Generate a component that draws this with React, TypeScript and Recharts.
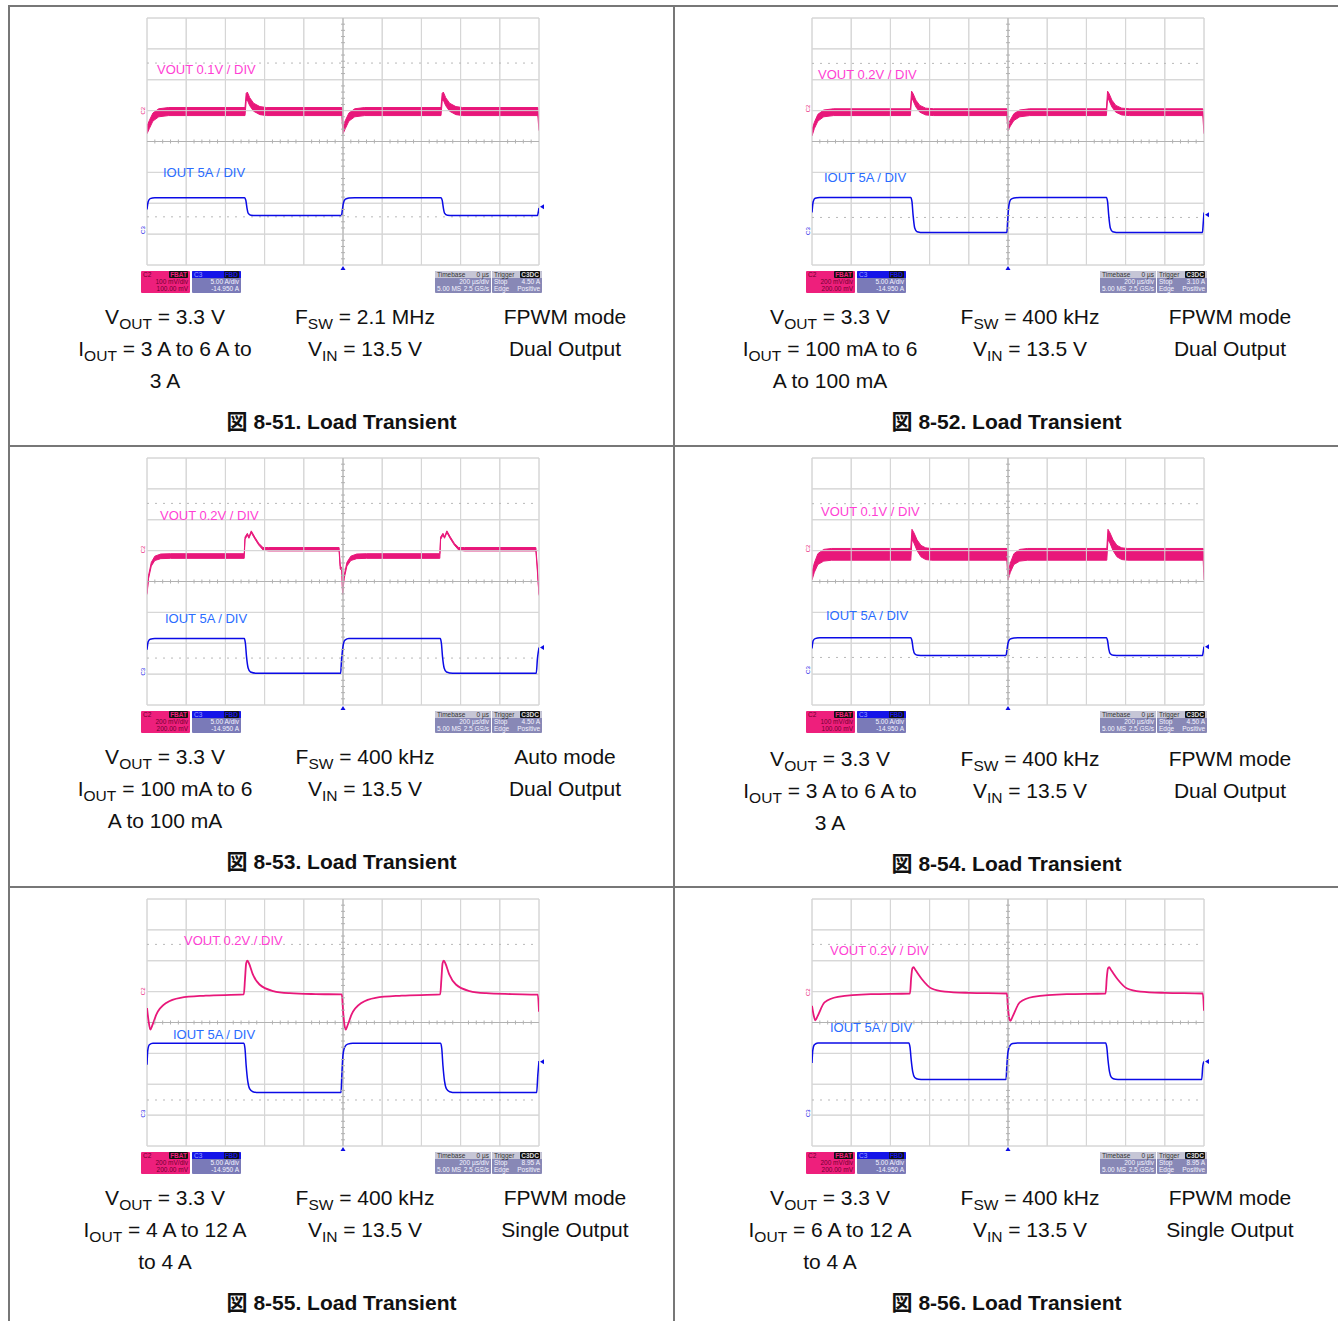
import React from 'react';
import {
  ComposedChart,
  Area,
  Line,
  Scatter,
  XAxis,
  YAxis,
  CartesianGrid,
  ReferenceLine,
  ReferenceDot,
} from 'recharts';

// scope colours
const TRACE_V = '#e8177a';
const TRACE_I = '#0b0be6';
const LABEL_V = '#ff3fd4';
const LABEL_I = '#2a6cff';
const GRID = '#d6d6d6';
const CENTER = '#b2b2b2';
const FONT = "'Liberation Sans', Arial, 'Noto Sans CJK JP', sans-serif";

// graticule: 10 x 8 divisions, minor ticks every 0.2 div on the centre lines
const DIV_X = [0, 1, 2, 3, 4, 5, 6, 7, 8, 9, 10];
const DIV_Y = [0, 1, 2, 3, 4, 5, 6, 7, 8];
const MINOR_X = [
  0.2, 0.4, 0.6, 0.8, 1.2, 1.4, 1.6, 1.8, 2.2, 2.4, 2.6, 2.8, 3.2, 3.4, 3.6, 3.8,
  4.2, 4.4, 4.6, 4.8, 5.2, 5.4, 5.6, 5.8, 6.2, 6.4, 6.6, 6.8, 7.2, 7.4, 7.6, 7.8,
  8.2, 8.4, 8.6, 8.8, 9.2, 9.4, 9.6, 9.8,
];
const MINOR_Y = [
  0.2, 0.4, 0.6, 0.8, 1.2, 1.4, 1.6, 1.8, 2.2, 2.4, 2.6, 2.8, 3.2, 3.4, 3.6, 3.8,
  4.2, 4.4, 4.6, 4.8, 5.2, 5.4, 5.6, 5.8, 6.2, 6.4, 6.6, 6.8, 7.2, 7.4, 7.6, 7.8,
];

// VOUT traces: [time div, low div, high div] (noise band) or [time div, value div]
const vout51 = [
  [0, 4.25, 4.5], [0.06, 4.42, 4.68], [0.15, 4.66, 4.92], [0.3, 4.8, 5.06], [0.55, 4.84, 5.1],
  [2.5, 4.84, 5.1], [2.53, 5.3, 5.56], [2.56, 5.34, 5.6], [2.62, 5.16, 5.42], [2.72, 4.98, 5.24],
  [2.88, 4.87, 5.13], [3.05, 4.84, 5.1], [4.97, 4.84, 5.1], [5.0, 4.25, 4.5], [5.06, 4.42, 4.68],
  [5.15, 4.66, 4.92], [5.3, 4.8, 5.06], [5.55, 4.84, 5.1], [7.5, 4.84, 5.1], [7.53, 5.3, 5.56],
  [7.56, 5.34, 5.6], [7.62, 5.16, 5.42], [7.72, 4.98, 5.24], [7.88, 4.87, 5.13], [8.05, 4.84, 5.1],
  [9.97, 4.84, 5.1], [10, 4.35, 4.55],
];
const iout51 = [
  [0, 1.8], [0.03, 2.05], [0.08, 2.15], [0.2, 2.18], [2.49, 2.18], [2.52, 2.1], [2.55, 1.85],
  [2.58, 1.68], [2.65, 1.61], [2.8, 1.6], [4.96, 1.6], [4.98, 1.75], [5.01, 2.0], [5.06, 2.13],
  [5.15, 2.17], [5.3, 2.18], [7.5, 2.18], [7.53, 2.1], [7.56, 1.85], [7.59, 1.68], [7.66, 1.61],
  [7.8, 1.6], [9.96, 1.6], [9.98, 1.7], [10, 1.85],
];

const vout52 = [
  [0, 4.18, 4.38], [0.06, 4.42, 4.62], [0.15, 4.66, 4.88], [0.3, 4.8, 5.02], [0.55, 4.84, 5.06],
  [2.51, 4.84, 5.06], [2.54, 5.4, 5.63], [2.58, 5.32, 5.55], [2.65, 5.12, 5.34], [2.75, 4.95, 5.17],
  [2.9, 4.86, 5.08], [3.1, 4.84, 5.06], [4.97, 4.84, 5.06], [5.0, 4.35, 4.55], [5.06, 4.5, 4.7],
  [5.15, 4.68, 4.9], [5.3, 4.8, 5.02], [5.55, 4.84, 5.06], [7.51, 4.84, 5.06], [7.54, 5.4, 5.63],
  [7.58, 5.32, 5.55], [7.65, 5.12, 5.34], [7.75, 4.95, 5.17], [7.9, 4.86, 5.08], [8.1, 4.84, 5.06],
  [9.97, 4.84, 5.06], [10, 4.25, 4.45],
];
const iout52 = [
  [0, 1.7], [0.03, 2.05], [0.08, 2.16], [0.2, 2.19], [2.52, 2.19], [2.55, 2.05], [2.58, 1.6],
  [2.62, 1.2], [2.68, 1.08], [2.85, 1.05], [4.97, 1.05], [4.99, 1.4], [5.02, 1.9], [5.07, 2.12],
  [5.15, 2.17], [5.3, 2.19], [7.51, 2.19], [7.54, 2.05], [7.57, 1.6], [7.61, 1.2], [7.67, 1.08],
  [7.85, 1.05], [9.96, 1.05], [9.98, 1.35], [10, 1.7],
];

const vout53 = [
  [0, 3.58, 3.62], [0.04, 4.1, 4.2], [0.11, 4.5, 4.62], [0.2, 4.68, 4.82], [0.35, 4.74, 4.89],
  [0.6, 4.75, 4.9], [2.48, 4.75, 4.9], [2.5, 5.36, 5.44], [2.56, 5.5, 5.56], [2.6, 5.4, 5.45],
  [2.66, 5.58, 5.64], [2.75, 5.38, 5.44], [2.85, 5.18, 5.24], [2.96, 5.02, 5.1], [3.1, 4.99, 5.1],
  [4.9, 4.99, 5.1], [4.93, 4.4, 4.5], [4.97, 4.35, 4.45], [4.99, 3.58, 3.62], [5.03, 4.1, 4.2],
  [5.1, 4.5, 4.62], [5.2, 4.68, 4.82], [5.35, 4.74, 4.89], [5.6, 4.75, 4.9], [7.47, 4.75, 4.9],
  [7.49, 5.36, 5.44], [7.55, 5.5, 5.56], [7.59, 5.4, 5.45], [7.65, 5.58, 5.64], [7.74, 5.38, 5.44],
  [7.84, 5.18, 5.24], [7.95, 5.02, 5.1], [8.1, 4.99, 5.1], [9.92, 4.99, 5.1], [9.95, 4.5, 4.6],
  [10, 3.55, 3.6],
];
const iout53 = [
  [0, 1.79], [0.03, 2.05], [0.08, 2.13], [0.2, 2.15], [2.48, 2.15], [2.51, 2.0], [2.54, 1.55],
  [2.58, 1.2], [2.64, 1.07], [2.8, 1.03], [4.94, 1.03], [4.96, 1.4], [5.0, 1.9], [5.05, 2.1],
  [5.15, 2.15], [7.48, 2.15], [7.51, 2.0], [7.54, 1.55], [7.58, 1.2], [7.64, 1.07], [7.8, 1.03],
  [9.93, 1.03], [9.96, 1.5], [10, 1.86],
];

const vout54 = [
  [0, 4.05, 4.3], [0.06, 4.3, 4.6], [0.15, 4.55, 4.9], [0.3, 4.66, 5.04], [0.5, 4.69, 5.07],
  [2.52, 4.69, 5.07], [2.55, 5.35, 5.69], [2.6, 5.25, 5.58], [2.68, 5.0, 5.35], [2.78, 4.8, 5.17],
  [2.9, 4.71, 5.09], [3.05, 4.69, 5.07], [4.97, 4.69, 5.07], [5.0, 4.05, 4.3], [5.06, 4.3, 4.6],
  [5.15, 4.55, 4.9], [5.3, 4.66, 5.04], [5.5, 4.69, 5.07], [7.52, 4.69, 5.07], [7.55, 5.35, 5.69],
  [7.6, 5.25, 5.58], [7.68, 5.0, 5.35], [7.78, 4.8, 5.17], [7.9, 4.71, 5.09], [8.05, 4.69, 5.07],
  [9.98, 4.69, 5.07], [10, 4.05, 4.3],
];
const iout54 = [
  [0, 1.83], [0.03, 2.08], [0.08, 2.15], [0.2, 2.18], [2.52, 2.18], [2.55, 2.08], [2.58, 1.82],
  [2.62, 1.66], [2.7, 1.61], [2.85, 1.6], [4.95, 1.6], [4.97, 1.75], [5.0, 2.0], [5.05, 2.13],
  [5.15, 2.17], [5.3, 2.18], [7.51, 2.18], [7.54, 2.08], [7.57, 1.82], [7.61, 1.66], [7.69, 1.61],
  [7.85, 1.6], [9.96, 1.6], [9.98, 1.72], [10, 1.89],
];

const vout55 = [
  [0, 4.47], [0.04, 4.05], [0.085, 3.77], [0.14, 3.92], [0.24, 4.26], [0.5, 4.64], [0.85, 4.8],
  [1.5, 4.87], [2.47, 4.91], [2.5, 5.4], [2.53, 5.92], [2.56, 6.0], [2.6, 5.92], [2.7, 5.56],
  [2.87, 5.23], [3.22, 5.02], [3.64, 4.95], [4.3, 4.92], [4.97, 4.91], [5.0, 4.4], [5.04, 3.9],
  [5.07, 3.77], [5.12, 3.92], [5.22, 4.26], [5.48, 4.64], [5.83, 4.8], [6.5, 4.87], [7.48, 4.91],
  [7.51, 5.4], [7.54, 5.92], [7.57, 6.0], [7.61, 5.92], [7.71, 5.56], [7.88, 5.23], [8.23, 5.02],
  [8.65, 4.95], [9.3, 4.92], [9.97, 4.9], [10, 4.35],
];
const iout55 = [
  [0, 2.63], [0.02, 3.1], [0.06, 3.28], [0.15, 3.33], [2.47, 3.33], [2.5, 3.15], [2.53, 2.6],
  [2.57, 2.1], [2.62, 1.85], [2.7, 1.76], [2.85, 1.73], [4.95, 1.73], [4.97, 2.3], [5.0, 2.95],
  [5.05, 3.22], [5.12, 3.3], [5.25, 3.33], [7.49, 3.33], [7.52, 3.15], [7.55, 2.6], [7.59, 2.1],
  [7.64, 1.85], [7.72, 1.76], [7.87, 1.73], [9.94, 1.73], [9.97, 2.3], [10, 2.75],
];

const vout56 = [
  [0, 4.54], [0.04, 4.25], [0.085, 4.07], [0.14, 4.2], [0.32, 4.65], [0.66, 4.83], [1.5, 4.92],
  [2.5, 4.94], [2.53, 5.45], [2.56, 5.75], [2.59, 5.79], [2.64, 5.7], [2.8, 5.41], [3.05, 5.1],
  [3.39, 5.0], [4.0, 4.96], [4.97, 4.94], [5.0, 4.45], [5.03, 4.15], [5.06, 4.05], [5.12, 4.2],
  [5.3, 4.65], [5.64, 4.83], [6.5, 4.92], [7.49, 4.94], [7.52, 5.45], [7.55, 5.75], [7.58, 5.79],
  [7.63, 5.7], [7.79, 5.41], [8.04, 5.1], [8.38, 5.0], [9.0, 4.96], [9.97, 4.94], [10, 4.38],
];
const iout56 = [
  [0, 2.69], [0.02, 3.1], [0.06, 3.28], [0.15, 3.34], [2.47, 3.34], [2.5, 3.2], [2.53, 2.8],
  [2.57, 2.4], [2.62, 2.22], [2.72, 2.16], [2.85, 2.15], [4.95, 2.15], [4.97, 2.6], [5.0, 3.05],
  [5.05, 3.25], [5.12, 3.32], [5.25, 3.34], [7.49, 3.34], [7.52, 3.2], [7.55, 2.8], [7.59, 2.4],
  [7.64, 2.22], [7.74, 2.16], [7.87, 2.15], [9.94, 2.15], [9.97, 2.6], [10, 2.74],
];

// marker levels in div: C2 ground, C3 ground, trigger level, upper dotted, lower dotted
const levels51 = [5.0, 1.13, 1.89, 6.54, 1.56];
const levels52 = [5.07, 1.1, 1.63, 6.53, 1.54];
const levels53 = [5.04, 1.08, 1.86, 6.53, 1.52];
const levels54 = [5.07, 1.13, 1.89, 6.52, 1.54];
const levels55 = [5.01, 1.05, 2.73, 6.53, 1.49];
const levels56 = [4.98, 1.06, 2.74, 6.53, 1.49];

// scope read-outs: C2 scale, C2 offset, trigger level
const status51 = ['100 mV/div', '100.00 mV', '4.50 A'];
const status52 = ['200 mV/div', '200.00 mV', '3.10 A'];
const status53 = ['200 mV/div', '200.00 mV', '4.50 A'];
const status54 = ['100 mV/div', '100.00 mV', '4.50 A'];
const status55 = ['200 mV/div', '200.00 mV', '8.95 A'];
const status56 = ['200 mV/div', '200.00 mV', '8.95 A'];

// test conditions, three columns ("_" marks a subscript)
const cond51 = [['V_OUT = 3.3 V', 'I_OUT = 3 A to 6 A to', '3 A'], ['F_SW = 2.1 MHz', 'V_IN = 13.5 V'], ['FPWM mode', 'Dual Output']];
const cond52 = [['V_OUT = 3.3 V', 'I_OUT = 100 mA to 6', 'A to 100 mA'], ['F_SW = 400 kHz', 'V_IN = 13.5 V'], ['FPWM mode', 'Dual Output']];
const cond53 = [['V_OUT = 3.3 V', 'I_OUT = 100 mA to 6', 'A to 100 mA'], ['F_SW = 400 kHz', 'V_IN = 13.5 V'], ['Auto mode', 'Dual Output']];
const cond54 = [['V_OUT = 3.3 V', 'I_OUT = 3 A to 6 A to', '3 A'], ['F_SW = 400 kHz', 'V_IN = 13.5 V'], ['FPWM mode', 'Dual Output']];
const cond55 = [['V_OUT = 3.3 V', 'I_OUT = 4 A to 12 A', 'to 4 A'], ['F_SW = 400 kHz', 'V_IN = 13.5 V'], ['FPWM mode', 'Single Output']];
const cond56 = [['V_OUT = 3.3 V', 'I_OUT = 6 A to 12 A', 'to 4 A'], ['F_SW = 400 kHz', 'V_IN = 13.5 V'], ['FPWM mode', 'Single Output']];

const CELL_LEFT = [9, 674];
const ROW_TOP = [6, 446, 887];

const PANELS = [
  { fig: '8-51', col: 0, row: 0, dy: 0, vout: vout51, band: true, iout: iout51, vText: 'VOUT 0.1V / DIV', vPos: [10, 45], iPos: [16, 148], levels: levels51, status: status51, cond: cond51 },
  { fig: '8-52', col: 1, row: 0, dy: 0, vout: vout52, band: true, iout: iout52, vText: 'VOUT 0.2V / DIV', vPos: [6, 50], iPos: [12, 153], levels: levels52, status: status52, cond: cond52 },
  { fig: '8-53', col: 0, row: 1, dy: 0, vout: vout53, band: true, iout: iout53, vText: 'VOUT 0.2V / DIV', vPos: [13, 51], iPos: [18, 154], levels: levels53, status: status53, cond: cond53 },
  { fig: '8-54', col: 1, row: 1, dy: 2, vout: vout54, band: true, iout: iout54, vText: 'VOUT 0.1V / DIV', vPos: [9, 47], iPos: [14, 151], levels: levels54, status: status54, cond: cond54 },
  { fig: '8-55', col: 0, row: 2, dy: 0, vout: vout55, band: false, iout: iout55, vText: 'VOUT 0.2V / DIV', vPos: [37, 35], iPos: [26, 129], levels: levels55, status: status55, cond: cond55 },
  { fig: '8-56', col: 1, row: 2, dy: 0, vout: vout56, band: false, iout: iout56, vText: 'VOUT 0.2V / DIV', vPos: [18, 45], iPos: [18, 122], levels: levels56, status: status56, cond: cond56 },
];

const W = 392;
const H = 247;

function Rich({ s }: { s: string }) {
  const parts = s.split(/_(\S+)/);
  return (
    <>
      {parts.map((x, i) =>
        i % 2 ? (
          <span key={i} style={{ fontSize: '0.74em', position: 'relative', top: '0.3em' }}>{x}</span>
        ) : (
          <React.Fragment key={i}>{x}</React.Fragment>
        )
      )}
    </>
  );
}

const hTick = (p: any) => (
  <line x1={p.cx} x2={p.cx} y1={p.cy - 2} y2={p.cy + 2} stroke={CENTER} strokeWidth={1} />
);
const vTick = (p: any) => (
  <line x1={p.cx - 2} x2={p.cx + 2} y1={p.cy} y2={p.cy} stroke={CENTER} strokeWidth={1} />
);

function Scope({ p }: { p: any }) {
  const [c2, c3, trig, dotHi, dotLo] = p.levels;
  const vData = p.band
    ? p.vout.map(([t, lo, hi]: number[]) => ({ t, band: [lo, hi] }))
    : p.vout.map(([t, v]: number[]) => ({ t, v }));
  const iData = p.iout.map(([t, v]: number[]) => ({ t, v }));
  const minorX = MINOR_X.map((t) => ({ t, y: 4 }));
  const minorY = MINOR_Y.map((y) => ({ t: 5, y }));

  return (
    <ComposedChart width={W + 16} height={H + 10} margin={{ top: 2, right: 8, bottom: 8, left: 8 }}>
      <XAxis type="number" dataKey="t" domain={[0, 10]} ticks={DIV_X} hide allowDataOverflow />
      <YAxis type="number" domain={[0, 8]} ticks={DIV_Y} hide allowDataOverflow />
      <CartesianGrid stroke={GRID} strokeWidth={1} />
      {DIV_X.map((x) => (
        <ReferenceLine key={`gx${x}`} x={x} stroke={GRID} />
      ))}
      {DIV_Y.map((y) => (
        <ReferenceLine key={`gy${y}`} y={y} stroke={GRID} />
      ))}
      <ReferenceLine y={dotHi} stroke="#b8b8b8" strokeDasharray="2 6" />
      <ReferenceLine y={dotLo} stroke="#b8b8b8" strokeDasharray="2 6" />
      <ReferenceLine x={5} stroke={CENTER} />
      <ReferenceLine y={4} stroke={CENTER} />
      <Scatter data={minorX} dataKey="y" shape={hTick} isAnimationActive={false} />
      <Scatter data={minorY} dataKey="y" shape={vTick} isAnimationActive={false} />
      <ReferenceDot
        x={0}
        y={c2}
        r={2}
        ifOverflow="visible"
        shape={(s: any) => (
          <text x={s.cx - 2} y={s.cy} transform={`rotate(-90 ${s.cx - 2} ${s.cy})`} fontSize={6} fill={TRACE_V} textAnchor="middle" fontFamily={FONT}>C2</text>
        )}
      />
      <ReferenceDot
        x={0}
        y={c3}
        r={2}
        ifOverflow="visible"
        shape={(s: any) => (
          <text x={s.cx - 2} y={s.cy} transform={`rotate(-90 ${s.cx - 2} ${s.cy})`} fontSize={6} fill={TRACE_I} textAnchor="middle" fontFamily={FONT}>C3</text>
        )}
      />
      <ReferenceDot
        x={10}
        y={trig}
        r={2}
        ifOverflow="visible"
        shape={(s: any) => (
          <polygon points={`${s.cx + 1},${s.cy} ${s.cx + 5},${s.cy - 2.5} ${s.cx + 5},${s.cy + 2.5}`} fill={TRACE_I} />
        )}
      />
      <ReferenceDot
        x={5}
        y={0}
        r={2}
        ifOverflow="visible"
        shape={(s: any) => (
          <polygon points={`${s.cx},${s.cy + 1} ${s.cx - 2.5},${s.cy + 5} ${s.cx + 2.5},${s.cy + 5}`} fill={TRACE_I} />
        )}
      />
      {p.band ? (
        <Area
          data={vData}
          dataKey="band"
          type="linear"
          stroke={TRACE_V}
          strokeWidth={1}
          fill={TRACE_V}
          fillOpacity={1}
          dot={false}
          activeDot={false}
          isAnimationActive={false}
        />
      ) : (
        <Line data={vData} dataKey="v" type="monotone" stroke={TRACE_V} strokeWidth={1.8} dot={false} activeDot={false} isAnimationActive={false} />
      )}
      <Line data={iData} dataKey="v" type="monotone" stroke={TRACE_I} strokeWidth={1.5} dot={false} activeDot={false} isAnimationActive={false} />
    </ComposedChart>
  );
}

function StatusBar({ s }: { s: string[] }) {
  const box = (left: number, width: number, bg: string): React.CSSProperties => ({
    position: 'absolute',
    left,
    top: 253,
    width,
    height: 22,
    background: bg,
    fontSize: 6.5,
    lineHeight: '7px',
    fontFamily: FONT,
    overflow: 'hidden',
    borderRadius: 1,
    boxSizing: 'border-box',
  });
  const row: React.CSSProperties = { display: 'flex', justifyContent: 'space-between', padding: '0 2px', height: 7 };
  const badge = (fg: string): React.CSSProperties => ({ background: '#111', color: fg, padding: '0 1px', fontWeight: 700, borderRadius: 1 });
  return (
    <>
      <div style={{ ...box(-6, 49, '#ee1f7c'), color: '#6e0030' }}>
        <div style={row}><span>C2</span><span style={badge('#ee1f7c')}>FBAT</span></div>
        <div style={{ textAlign: 'right', paddingRight: 2 }}>{s[0]}</div>
        <div style={{ textAlign: 'right', paddingRight: 2 }}>{s[1]}</div>
      </div>
      <div style={{ ...box(45, 49, '#7a7ab8'), color: '#f4f4ff' }}>
        <div style={{ ...row, background: '#1414e8', color: '#9aa0ff' }}><span>C3</span><span style={badge('#1414e8')}>FBD</span></div>
        <div style={{ textAlign: 'right', paddingRight: 2 }}>5.00 A/div</div>
        <div style={{ textAlign: 'right', paddingRight: 2 }}>-14.950 A</div>
      </div>
      <div style={{ ...box(288, 56, '#8888b6'), color: '#f4f4ff' }}>
        <div style={{ ...row, background: '#c6c6d6', color: '#333' }}><span>Timebase</span><span>0 µs</span></div>
        <div style={{ textAlign: 'right', paddingRight: 2 }}>200 µs/div</div>
        <div style={row}><span>5.00 MS</span><span>2.5 GS/s</span></div>
      </div>
      <div style={{ ...box(345, 50, '#8888b6'), color: '#f4f4ff' }}>
        <div style={{ ...row, background: '#c6c6d6', color: '#333' }}><span>Trigger</span><span style={badge('#ddd')}>C3DC</span></div>
        <div style={row}><span>Stop</span><span>{s[2]}</span></div>
        <div style={row}><span>Edge</span><span>Positive</span></div>
      </div>
    </>
  );
}

function Panel({ p }: { p: any }) {
  const cellLeft = CELL_LEFT[p.col];
  const rowTop = ROW_TOP[p.row];
  const gx = cellLeft + 138;
  const gy = rowTop + 12;
  const label = (color: string, pos: number[]): React.CSSProperties => ({
    position: 'absolute',
    left: pos[0],
    top: pos[1],
    color,
    fontSize: 13,
    lineHeight: '13px',
    whiteSpace: 'nowrap',
    fontFamily: FONT,
  });
  return (
    <>
      <div style={{ position: 'absolute', left: gx, top: gy, width: W, height: H }}>
        <div style={{ position: 'absolute', left: -8, top: -2 }}>
          <Scope p={p} />
        </div>
        <div style={label(LABEL_V, p.vPos)}>{p.vText}</div>
        <div style={label(LABEL_I, p.iPos)}>IOUT 5A / DIV</div>
        <StatusBar s={p.status} />
      </div>
      {p.cond.map((lines: string[], c: number) =>
        lines.map((ln, i) => (
          <div
            key={`${c}-${i}`}
            style={{
              position: 'absolute',
              left: cellLeft + 56 + c * 200,
              top: rowTop + 295 + p.dy + i * 32,
              width: 200,
              textAlign: 'center',
              fontSize: 21,
              lineHeight: '32px',
              whiteSpace: 'nowrap',
              color: '#111',
            }}
          >
            <Rich s={ln} />
          </div>
        ))
      )}
      <div
        style={{
          position: 'absolute',
          left: cellLeft,
          top: rowTop + 400 + p.dy,
          width: 665,
          textAlign: 'center',
          fontSize: 21,
          fontWeight: 700,
          lineHeight: '32px',
          color: '#111',
        }}
      >
        図 {p.fig}. Load Transient
      </div>
    </>
  );
}

export default function App() {
  const line = '#777';
  return (
    <div
      style={{
        position: 'absolute',
        left: 0,
        top: 0,
        width: 1338,
        height: 1321,
        overflow: 'hidden',
        background: '#fff',
        fontFamily: FONT,
      }}
    >
      <div style={{ position: 'absolute', left: 8, top: 5, width: 1340, height: 1340, border: `2px solid ${line}`, boxSizing: 'border-box' }} />
      <div style={{ position: 'absolute', left: 673, top: 5, width: 2, height: 1340, background: line }} />
      <div style={{ position: 'absolute', left: 8, top: 445, width: 1340, height: 2, background: line }} />
      <div style={{ position: 'absolute', left: 8, top: 886, width: 1340, height: 2, background: line }} />
      {PANELS.map((p) => (
        <Panel key={p.fig} p={p} />
      ))}
    </div>
  );
}
